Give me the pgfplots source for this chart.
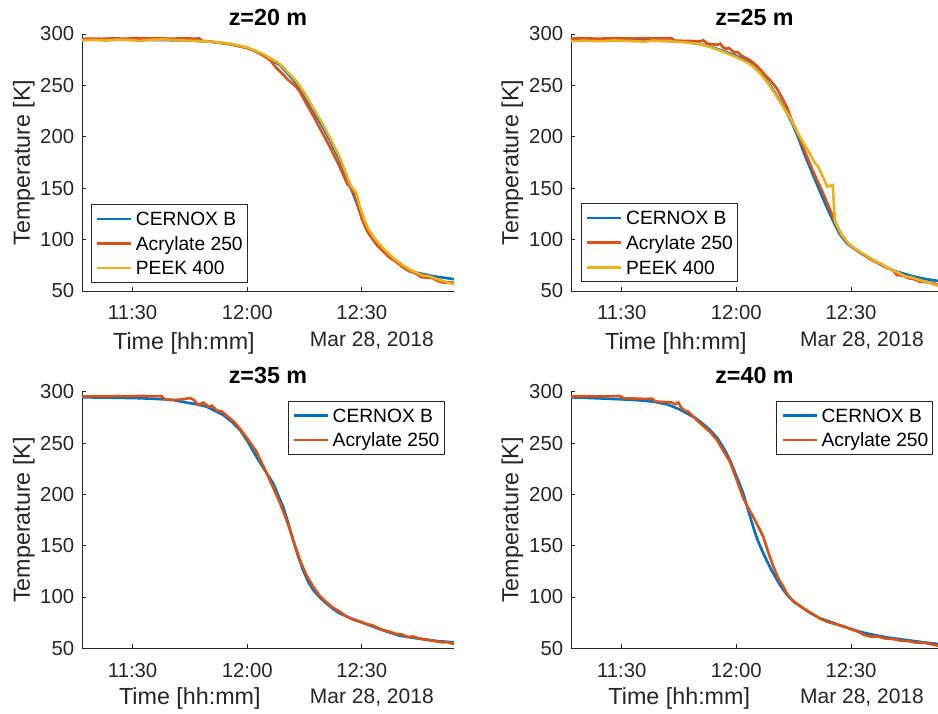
\documentclass[border=0pt]{standalone}
\usepackage{fontspec}
\setmainfont{Liberation Sans}
\usepackage{pgfplots}
\pgfplotsset{compat=1.18}
\definecolor{mblue}{rgb}{0,0.447,0.741}
\definecolor{morange}{rgb}{0.85,0.325,0.098}
\definecolor{myellow}{rgb}{0.929,0.694,0.125}
\definecolor{axgray}{rgb}{0.15,0.15,0.15}
\tikzset{datestyle/.style={anchor=base east, font=\fontsize{21}{25}\selectfont, text=axgray, inner sep=0pt}}
\pgfplotsset{
 mstyle/.style={
  scale only axis,
  clip mode=individual,
  xmin=16.74, ymin=50, ymax=300,
  height=257pt,
  axis x line=bottom, axis y line=left,
  axis line style={-, draw=axgray, line width=0.8pt},
  tick align=inside,
  major tick length=4pt,
  tick style={draw=axgray, line width=0.8pt},
  xtick={30,60,90}, xticklabels={11:30,12:00,12:30},
  ytick={50,100,150,200,250,300},
  /pgf/number format/assume math mode=true,
  tick label style={font=\fontsize{20.3}{24}\selectfont, text=axgray},
  xticklabel style={anchor=base, yshift=-29pt, inner sep=0pt},
  yticklabel style={anchor=east, xshift=-7.7pt, inner sep=0pt},
  label style={font=\fontsize{23.3}{27}\selectfont, text=axgray},
  ylabel={Temperature [K]},
  xlabel={Time [hh:mm]},
  every axis title shift=0pt,
  title style={font=\bfseries\fontsize{23.3}{27}\selectfont, at={(0.5,1)}, anchor=base, yshift=8pt},
  legend style={draw=axgray, line width=0.8pt, fill=white, font=\fontsize{19.2}{23}\selectfont, inner xsep=4.5pt, inner ysep=3.45pt, row sep=2.6pt, column sep=3.7pt, nodes={inner sep=0pt, text height=17.8pt, text depth=4.2pt}},
  legend cell align=left,
  legend image code/.code={\draw[#1,line width=2.6pt] (0pt,0pt) -- (34pt,0pt);},
  every axis plot/.append style={line width=2.6pt},
 },
}
\begin{document}
\begin{tikzpicture}
\useasboundingbox (0,0) rectangle (938pt,714pt);
% ---------------- z=20
\begin{axis}[mstyle, at={(82pt,423pt)}, anchor=south west, width=372pt, xmax=114.14,
  title={z=20 m},
  xlabel style={at={(axis description cs:0.274,-0.2296)}, anchor=base},
  ylabel style={at={(axis description cs:-0.1398,0.5)}, anchor=base},
  legend style={at={(axis description cs:0.0234,0.3385)}, anchor=north west}]
\addplot[mblue] coordinates {(16.74,294.5)(25,294.4)(35,294.2)(45,293.7)(50,292.5)(55.5,290.3)(60,286.5)(64.2,279.6)(68.5,269.9)(72.9,252)(75,240)(77.2,226)(79.5,211.5)(81.6,196.9)(84.2,177.4)(85.5,165)(86.9,152.5)(88.2,140)(89.2,130)(90.3,119.1)(91.5,109)(92.9,101.3)(94.2,95)(95.6,89.9)(97.3,84)(99.1,78.5)(100.8,74)(102.5,70.4)(104.2,68)(106,66.5)(107.8,65.1)(109.5,63.9)(111.7,62.8)(114.14,61.5)};
\addplot[morange] coordinates {(16.74,295.2)(19,295.5)(22,295.3)(25,295.8)(28,295.4)(31,296.1)(34,295.6)(37,295.9)(40,295.3)(43,295.8)(46,295.5)(47.5,295.6)(48,293.5)(51,292.3)(55.5,290)(58,288)(60,286.3)(62,283.5)(64.2,279)(66,274.5)(67.5,267.5)(69,262)(70.7,255.3)(72,251.5)(72.8,248.5)(73.8,243.9)(75.5,232)(77.2,221)(79.5,205)(81.6,190.5)(84,172.5)(86.2,154)(86.85,151.5)(88,145)(89,133)(90,120)(91.5,107.5)(92.9,100)(94.2,93.5)(95.6,88.5)(97.3,82.5)(99.1,78)(100.8,73)(102.5,69)(104,67.5)(105.5,63.5)(107,63)(108.5,62.5)(110,59.5)(111.5,58)(113,58.5)(114.14,58)};
\addplot[myellow] coordinates {(16.74,293.8)(20,294.2)(23,293.6)(26,294.6)(29,294.1)(32,293.4)(35,294.4)(38,294.7)(41,293.9)(44,293.6)(47,293.2)(50,292.6)(55.5,290.6)(60,287)(64.2,280.5)(68.5,271)(72.9,254)(75,242.5)(77.2,228.5)(79.5,214)(81.6,199.5)(84.2,180)(85.5,168)(86.9,154)(87.5,150.5)(88.5,146)(89.5,132)(90.6,120)(91.8,110)(93.2,102)(94.5,96)(95.9,90.5)(97.5,84.5)(99.3,79)(101,74.5)(102.7,70.5)(104.5,67.5)(106,65)(107.5,64.5)(109,62.5)(110.5,60.5)(112,59)(113.2,57.5)(114.14,56.5)};
\legend{CERNOX B, Acrylate 250, PEEK 400}
\node[datestyle] at (axis description cs:0.946,-0.2167) {Mar 28, 2018};
\end{axis}
% ---------------- z=25
\begin{axis}[mstyle, at={(571pt,423pt)}, anchor=south west, width=367pt, xmax=112.76,
  title={z=25 m},
  xlabel style={at={(axis description cs:0.286,-0.2296)}, anchor=base},
  ylabel style={at={(axis description cs:-0.1433,0.5)}, anchor=base},
  legend style={at={(axis description cs:0.0272,0.3412)}, anchor=north west}]
\addplot[mblue] coordinates {(16.74,294)(25,294)(35,293.8)(42,293.3)(46,292.5)(50,290.5)(53,288)(55.8,284.5)(58,281.5)(60,278.5)(62,275)(63.6,271.5)(66,263.5)(67.9,255.3)(70,243.5)(72.3,230)(74.5,214)(76,201)(77.3,188)(78.6,176)(80,163.5)(81.3,152)(83,137)(85.4,117.4)(87,105.5)(88.9,96.4)(91,90.5)(93,85.8)(95,81.8)(98.4,74.5)(101,70)(103.7,67)(106,64.5)(108,62.8)(110,61.3)(112.76,59.8)};
\addplot[morange] coordinates {(16.74,295.5)(20,295.8)(24,295.4)(28,296)(32,295.6)(36,295.9)(40,295.7)(43,295.9)(44,293.5)(48,293.2)(50.5,292.8)(51.3,294)(52.5,290.5)(55,289.5)(55.8,290.5)(56.5,287)(57.5,285.5)(58,286.5)(59.5,282)(60.2,282.5)(61.5,278.5)(63.6,274.5)(65.5,268.5)(67.9,258.5)(68.8,255.3)(70.5,247.5)(72,237.5)(73.2,229.3)(74.5,216)(76.5,199)(79.1,175)(80.5,163)(82,151)(83.5,138)(85.8,117.4)(87.5,104.5)(89.3,96)(91,91)(93,86)(95,81)(96.5,78)(98,75.5)(99.5,72.5)(101,70)(102,65.5)(103.5,65)(105,62.5)(106.5,61.5)(108,59)(110,58.5)(111.5,57.5)(112.76,56)};
\addplot[myellow] coordinates {(16.74,293)(20,293.5)(24,293)(28,293.7)(32,293.2)(36,292.5)(38,293.5)(42,293)(46,292)(50,290.5)(53,287.5)(56,283.5)(59,279)(62,274)(64,269.5)(66,262.5)(68,253.5)(70,242.5)(72,230.5)(74,219)(75.5,208)(77.1,196.9)(79,185)(80.6,174.2)(81.4,171)(82.5,162)(83.8,151.5)(85.2,153.1)(85.8,117.4)(87.5,105)(89.3,96.5)(91,91)(93,86.5)(95,82)(96.5,78.5)(98,76.5)(100,71.5)(102,68.5)(104,64.5)(106,63)(108,60.5)(110,58.5)(112.76,55)};
\legend{CERNOX B, Acrylate 250, PEEK 400}
\node[datestyle] at (axis description cs:0.962,-0.2167) {Mar 28, 2018};
\end{axis}
% ---------------- z=35
\begin{axis}[mstyle, at={(82pt,65.7pt)}, anchor=south west, width=372pt, height=256.6pt, xmax=114.14,
  title={z=35 m},
  xlabel style={at={(axis description cs:0.29,-0.22)}, anchor=base},
  ylabel style={at={(axis description cs:-0.1398,0.5)}, anchor=base},
  legend style={at={(axis description cs:0.974,0.965)}, anchor=north east}]
\addplot[mblue] coordinates {(16.74,294.5)(22,294.3)(27,294)(31.9,293.6)(36,293)(40.6,291.9)(44,289.5)(47,287.5)(49.4,285.4)(51.5,281.5)(53.7,277.3)(56,270.5)(58.1,262.7)(60.2,251)(62.4,236.7)(64.5,224)(66.8,210.8)(68,200)(69.4,188)(70.7,172.5)(72,155.5)(73.3,140)(74.6,126.3)(76,114.5)(77.3,106.8)(79,99.5)(80.7,93.8)(82.5,88.3)(84.2,84.1)(87,79.5)(89.9,75.3)(93,71)(96,67)(99.9,62.3)(103,60.5)(106,58.8)(110,57)(114.14,55.8)};
\addplot[morange] coordinates {(16.74,295.3)(20,295.6)(23,295.3)(26,295.8)(29,295.5)(32,295.9)(35,295.6)(37.5,295.8)(38.5,292.3)(41,292)(43,292.5)(45,293.8)(46,292)(47.2,287.1)(48.5,289.4)(49.8,285.5)(50.7,286.5)(52.1,281.6)(53.4,280.6)(55,275.5)(56.5,270.9)(58.3,263)(60,254.6)(61.8,244.8)(62.2,243.2)(63.5,233)(65.1,220.5)(66.8,206.5)(68.6,191.3)(70,178)(71.2,165.3)(72.5,150)(73.8,136.1)(75.5,121)(77.3,110)(79,101)(80.7,95)(82.5,89.5)(84.2,85.7)(86,81)(88,77.5)(90,75.5)(91.5,73.5)(93,72)(95,68.5)(97,66.5)(99,64)(100.5,63.5)(102,61)(103.5,61.5)(105,59.5)(107,58.5)(109,57)(111,55.8)(112.5,56)(114.14,54)};
\legend{CERNOX B, Acrylate 250}
\node[datestyle] at (axis description cs:0.946,-0.217) {Mar 28, 2018};
\end{axis}
% ---------------- z=40
\begin{axis}[mstyle, at={(571pt,65.7pt)}, anchor=south west, width=367pt, height=256.6pt, xmax=112.76,
  title={z=40 m},
  xlabel style={at={(axis description cs:0.295,-0.22)}, anchor=base},
  ylabel style={at={(axis description cs:-0.1433,0.5)}, anchor=base},
  legend style={at={(axis description cs:0.987,0.965)}, anchor=north east}]
\addplot[mblue] coordinates {(16.74,294.5)(22,293.8)(26,293.2)(29.6,292.6)(34,291.8)(38.3,290.3)(42,287.5)(45,283)(47,279)(49,275)(51,269.5)(53.1,262.7)(55,255)(57,243)(58.3,233.5)(60,218)(61.8,201)(63,185.5)(64.4,168.5)(65.2,159)(66,151.5)(67,143)(67.9,136)(69,127.5)(70.2,119.5)(71.3,112.5)(72.3,106.8)(73.5,101)(75,95.5)(77.5,89)(79.5,84)(81.9,79.2)(84,76.5)(87,72.5)(90,68.8)(93,65.5)(96,63)(99.3,60.7)(103,58.8)(106,57.3)(109,55.8)(112.76,54.2)};
\addplot[morange] coordinates {(16.74,295.5)(20,295.6)(24,295.4)(28,295.7)(29.6,295.8)(30.5,293.5)(33,293.4)(36,293)(38,293.2)(38.8,290.5)(41,290)(43,289.5)(44,287.8)(44.8,289.5)(45.5,285)(46.5,281.5)(47.5,280.5)(49.6,272.4)(51.5,266)(53.1,261)(55,252.5)(57,240)(58.3,231.9)(60,215)(61.8,196.4)(63,187.5)(64.4,178.2)(65.8,168)(67.05,158.7)(68.5,142)(69.7,129.5)(71,118)(72.3,110)(73.5,101.5)(75,95.5)(77.5,89)(79.5,84.5)(81.9,79)(84,75.5)(86,73.5)(88,71.5)(90,68.5)(92,66)(93.5,63)(95,61.5)(97,61.5)(99,59.5)(101,59)(103,57.5)(105,57)(107,55.5)(109,55.5)(111,54)(112.76,52.5)};
\legend{CERNOX B, Acrylate 250}
\node[datestyle] at (axis description cs:0.962,-0.217) {Mar 28, 2018};
\end{axis}
\end{tikzpicture}
\end{document}
